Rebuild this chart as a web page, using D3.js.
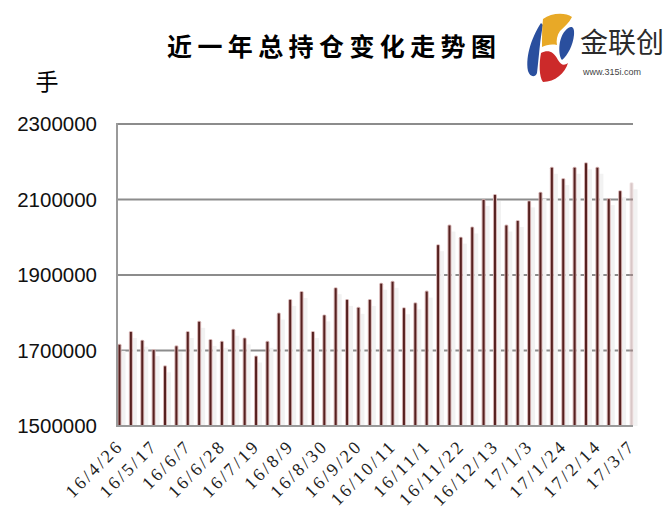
<!DOCTYPE html>
<html>
<head>
<meta charset="utf-8">
<script src="https://cdn.jsdelivr.net/npm/d3@7"></script>
<style>
  body { margin: 0; background: #fff; }
  svg { display: block; }
</style>
</head>
<body>
<svg id="chart" width="671" height="517"></svg>
<script>
// weekly dates (every bar), only every third one is labelled
var dates = ["16/4/26","16/5/3","16/5/10","16/5/17","16/5/24","16/5/31","16/6/7","16/6/14","16/6/21","16/6/28",
  "16/7/5","16/7/12","16/7/19","16/7/26","16/8/2","16/8/9","16/8/16","16/8/23","16/8/30","16/9/6",
  "16/9/13","16/9/20","16/9/27","16/10/4","16/10/11","16/10/18","16/10/25","16/11/1","16/11/8","16/11/15",
  "16/11/22","16/11/29","16/12/6","16/12/13","16/12/20","16/12/27","17/1/3","17/1/10","17/1/17","17/1/24",
  "17/1/31","17/2/7","17/2/14","17/2/21","17/2/28","17/3/7"];

// total open interest (hands)
var holdings = [1715000,1749000,1726000,1701000,1658000,1711000,1749000,1776000,1728000,1723000,
  1755000,1732000,1684000,1723000,1798000,1834000,1855000,1749000,1793000,1865000,
  1834000,1813000,1834000,1877000,1882000,1812000,1825000,1856000,1979000,2031000,
  1999000,2026000,2099000,2112000,2031000,2043000,2095000,2118000,2184000,2154000,
  2184000,2196000,2184000,2101000,2122000,2143000];

var tickLabels = ["16/4/26","16/5/17","16/6/7","16/6/28","16/7/19","16/8/9","16/8/30","16/9/20",
  "16/10/11","16/11/1","16/11/22","16/12/13","17/1/3","17/1/24","17/2/14","17/3/7"];

var yTicks = [1500000, 1700000, 1900000, 2100000, 2300000];

function draw() {
    var svg = d3.select("#chart");

    var plotLeft = 117, plotRight = 633, plotTop = 124, plotBottom = 426;

    var x = d3.scalePoint()
        .domain(dates)
        .range([119.5, 631.5]);

    var y = d3.scaleLinear()
        .domain([1500000, 2300000])
        .range([plotBottom, plotTop]);

    // Title
    svg.append("text")
        .attr("x", 167)
        .attr("y", 56)
        .attr("font-family", "'Noto Sans CJK SC', sans-serif")
        .attr("font-weight", "bold")
        .attr("font-size", 25)
        .attr("letter-spacing", 5.4)
        .attr("fill", "#000")
        .text("近一年总持仓变化走势图");

    // unit
    svg.append("text")
        .attr("x", 47)
        .attr("y", 90)
        .attr("text-anchor", "middle")
        .attr("font-family", "'Noto Sans CJK SC', sans-serif")
        .attr("font-size", 23)
        .attr("fill", "#000")
        .text("手");

    // gridlines
    svg.append("g")
        .selectAll("line")
        .data(yTicks.slice(1))
        .enter().append("line")
        .attr("x1", plotLeft)
        .attr("x2", plotRight)
        .attr("y1", function(d) { return y(d); })
        .attr("y2", function(d) { return y(d); })
        .attr("stroke", "#8c8c8c")
        .attr("stroke-width", 2);

    // y axis labels
    var yAxis = d3.axisLeft(y)
        .tickValues(yTicks)
        .tickSize(0)
        .tickPadding(20)
        .tickFormat(d3.format("d"));

    var yg = svg.append("g")
        .attr("transform", "translate(" + plotLeft + ",0)")
        .call(yAxis);
    yg.select(".domain").remove();
    yg.selectAll("text")
        .attr("font-family", "'Liberation Sans', Arial, sans-serif")
        .attr("font-size", 20.5)
        .attr("fill", "#111");

    // faint shadows behind bars
    svg.append("g")
        .selectAll("rect")
        .data(holdings)
        .enter().append("rect")
        .attr("x", function(d, i) { return x(dates[i]) + 2; })
        .attr("y", function(d) { return y(d) + 6; })
        .attr("width", 4)
        .attr("height", function(d) { return plotBottom - y(d) - 6; })
        .attr("fill", "#f2f2f2");

    // bars (thin stems)
    var bars = svg.append("g");
    bars.selectAll("rect.halo")
        .data(holdings)
        .enter().append("rect")
        .attr("class", "halo")
        .attr("x", function(d, i) { return x(dates[i]) - 2; })
        .attr("y", function(d) { return y(d) - 1; })
        .attr("width", 4)
        .attr("height", function(d) { return plotBottom - y(d) + 1; })
        .attr("rx", 1.5)
        .attr("fill", "#d4b3b3")
        .attr("opacity", function(d, i) { return i === holdings.length - 1 ? 0.35 : 1; });
    bars.selectAll("rect.stem")
        .data(holdings)
        .enter().append("rect")
        .attr("class", "stem")
        .attr("x", function(d, i) { return x(dates[i]) - 1; })
        .attr("y", function(d) { return y(d); })
        .attr("width", 2)
        .attr("height", function(d) { return plotBottom - y(d); })
        .attr("fill", "#56201f")
        .attr("opacity", function(d, i) { return i === holdings.length - 1 ? 0.15 : 1; });

    // axis lines
    svg.append("line")
        .attr("x1", plotLeft).attr("x2", plotLeft)
        .attr("y1", plotTop - 1).attr("y2", plotBottom + 1)
        .attr("stroke", "#9a9a9a").attr("stroke-width", 2);
    svg.append("line")
        .attr("x1", plotLeft).attr("x2", plotRight)
        .attr("y1", plotBottom).attr("y2", plotBottom)
        .attr("stroke", "#9a9a9a").attr("stroke-width", 2);

    // x labels, rotated
    svg.append("g")
        .selectAll("text")
        .data(tickLabels)
        .enter().append("text")
        .attr("transform", function(d) { return "translate(" + (x(d) + 5) + ",447) rotate(-45)"; })
        .attr("text-anchor", "end")
        .attr("font-family", "'Liberation Serif', 'Times New Roman', serif")
        .attr("font-size", 18)
        .attr("letter-spacing", 2.6)
        .attr("fill", "#222")
        .text(function(d) { return d; });

    // logo
    var logo = svg.append("g").attr("transform", "translate(515,5)");
    logo.append("path")
        .attr("d", "M26,18 C18,30 10,50 13,66 C15,72 20,73 22,68 C24,52 25,34 28,20 Z")
        .attr("fill", "#2a4f9e");
    logo.append("path")
        .attr("d", "M28,14 C36,8 50,7 57,12 C54,18 49,22 45,26 C42,30 41,36 42,40 C36,39 31,40 27,42 C27,32 27,22 28,14 Z")
        .attr("fill", "#e8a927");
    logo.append("path")
        .attr("d", "M50,26 C55,20 60,20 59,30 C58,40 53,50 47,55 C43,50 43,34 50,26 Z")
        .attr("fill", "#2a4f9e");
    logo.append("path")
        .attr("d", "M26,48 C32,45 38,45 43,55 C46,60 49,61 53,58 C50,68 40,77 28,77 C24,72 24,58 26,48 Z")
        .attr("fill", "#cc2a2a");
    svg.append("text")
        .attr("x", 580)
        .attr("y", 53)
        .attr("font-family", "'Noto Sans CJK SC', sans-serif")
        .attr("font-size", 28)
        .attr("fill", "#2b2b2b")
        .text("金联创");
    svg.append("text")
        .attr("x", 583)
        .attr("y", 75)
        .attr("font-family", "'Liberation Sans', Arial, sans-serif")
        .attr("font-size", 9)
        .attr("fill", "#444")
        .text("www.315i.com");
}

draw();
</script>
</body>
</html>
